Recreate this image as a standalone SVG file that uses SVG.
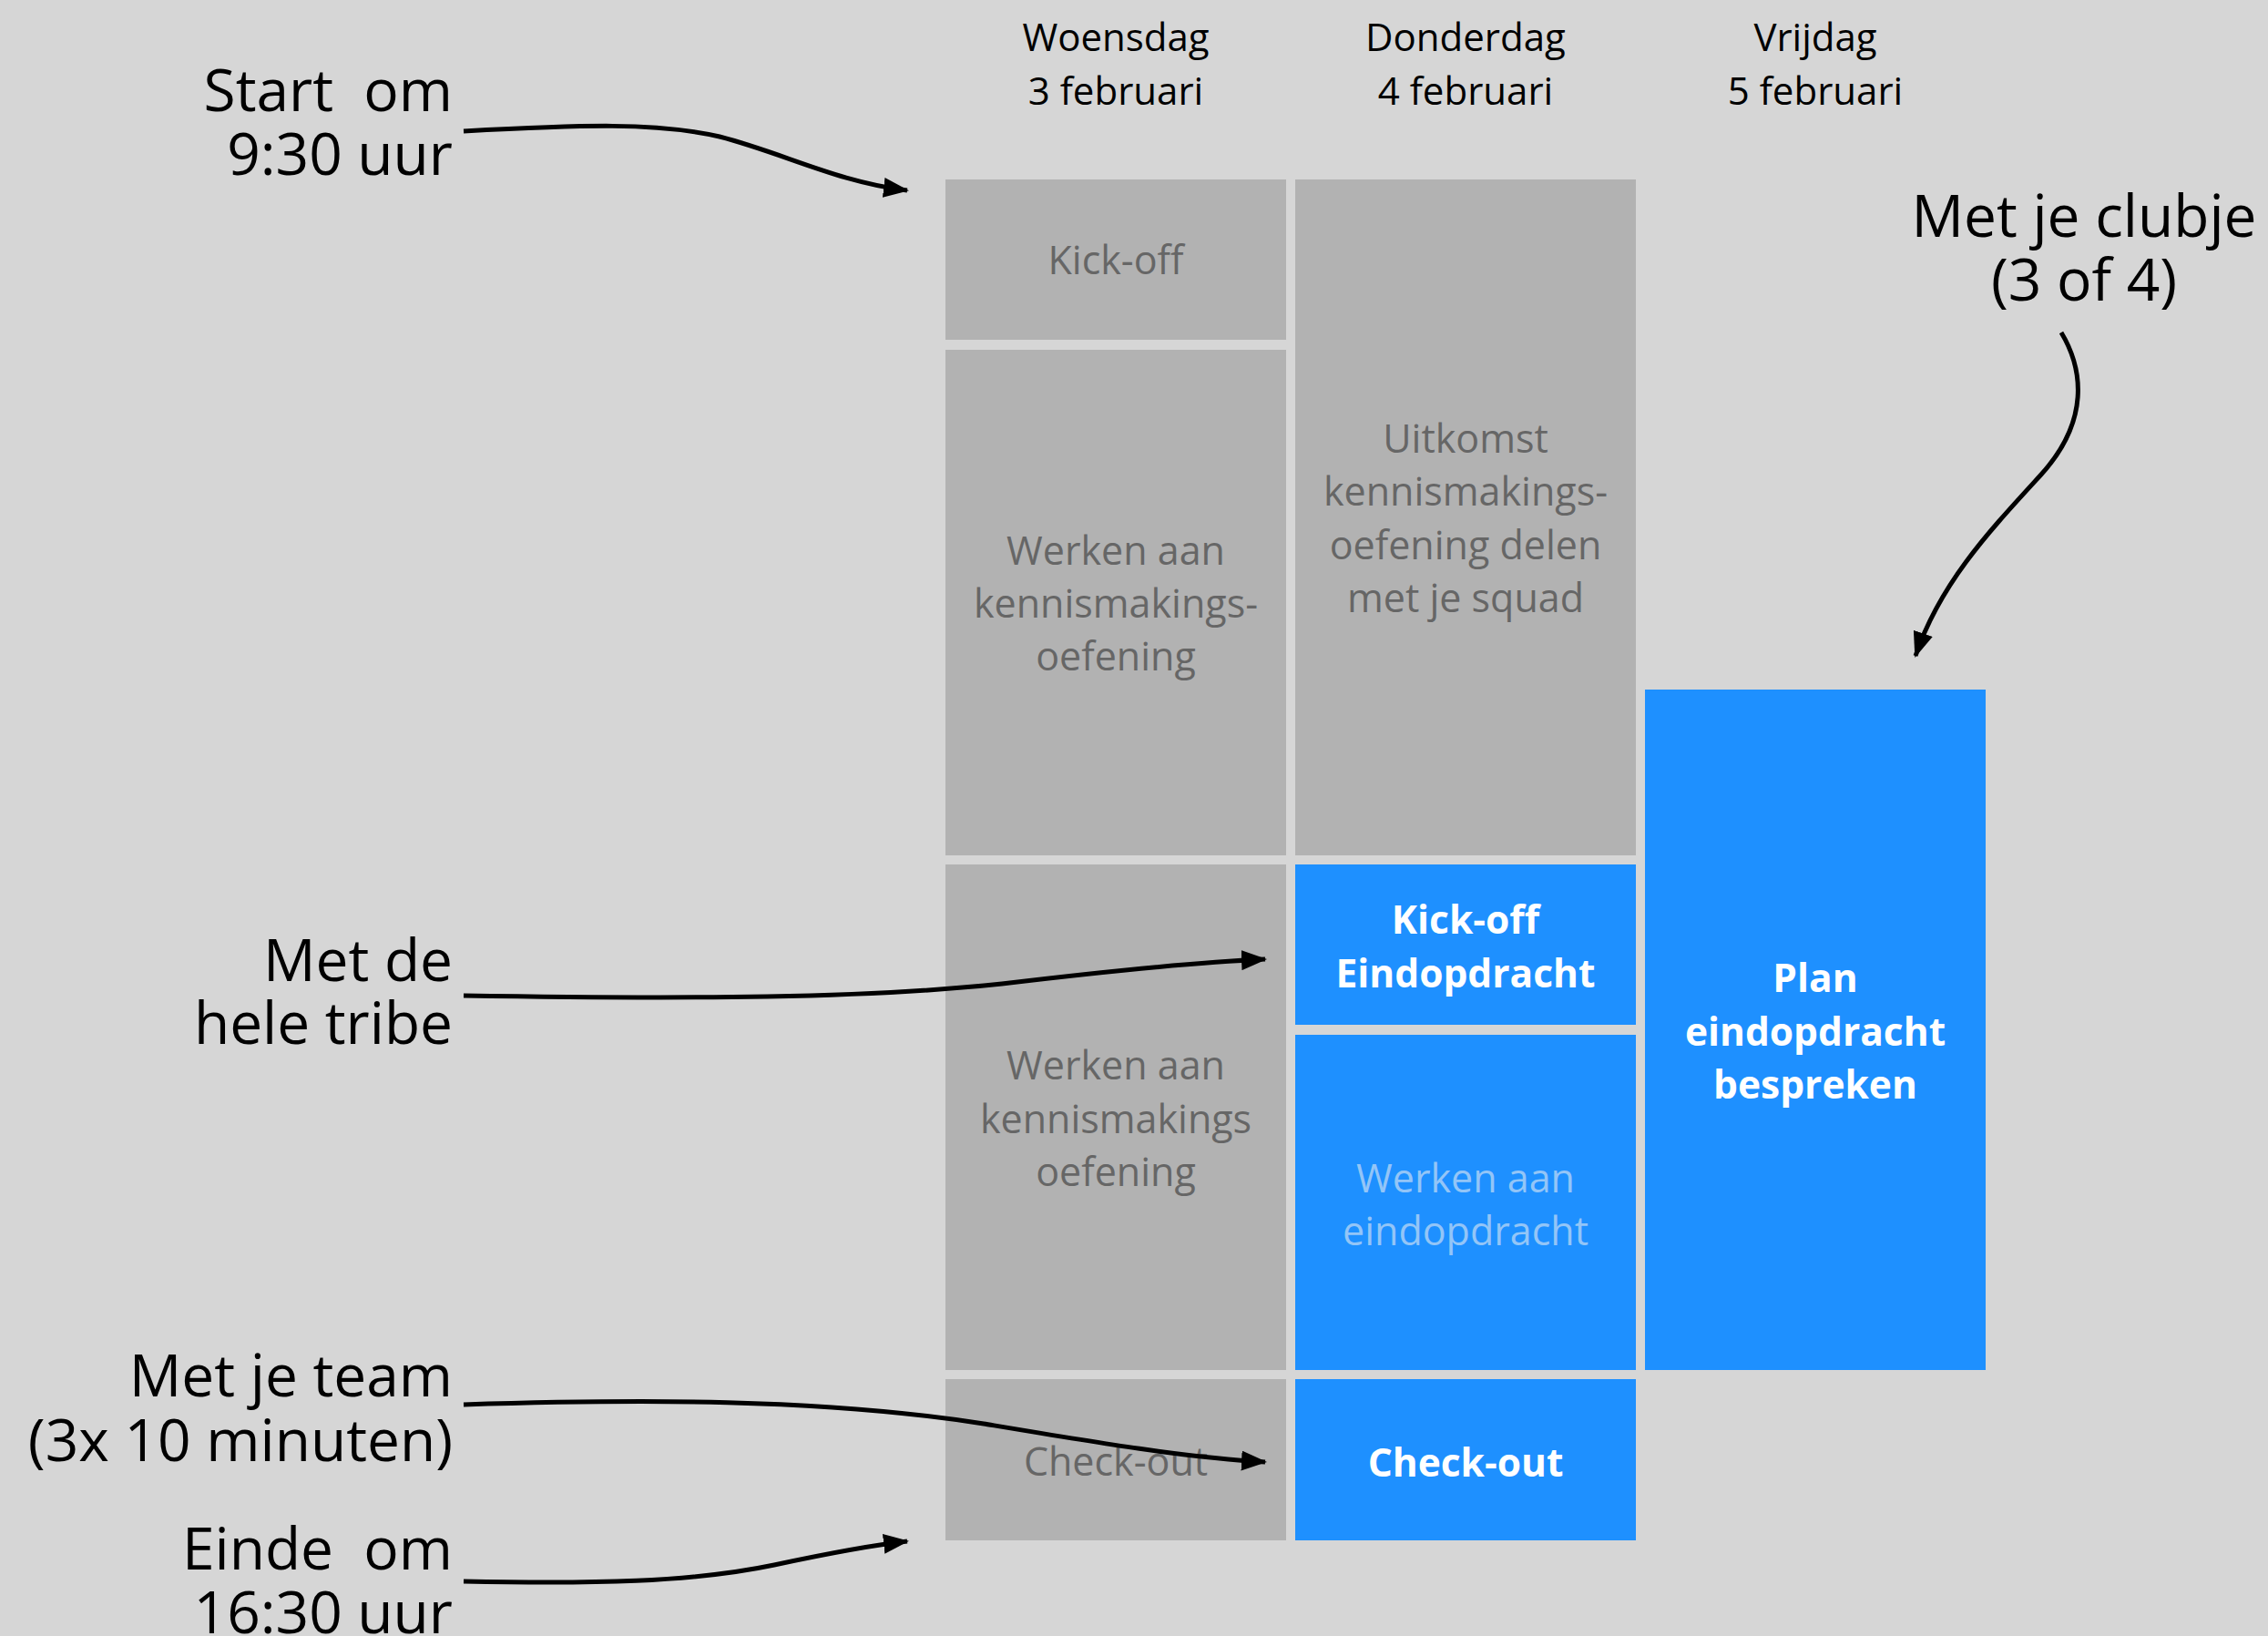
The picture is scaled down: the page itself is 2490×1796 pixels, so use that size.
<svg xmlns="http://www.w3.org/2000/svg" width="2490" height="1796" viewBox="0 0 2490 1796">
<defs>
<style>
.bg{fill:#d6d6d6}
.g{fill:#b2b2b2}
.b{fill:#1e90ff}
text{font-family:"Open Sans","Noto Sans","DejaVu Sans",sans-serif}
.hd{font-size:42px;fill:#000;text-anchor:middle}
.gt{font-size:43px;fill:#666666;text-anchor:middle}
.wt{font-size:42.5px;fill:#ffffff;font-weight:bold;text-anchor:middle}
.lt{font-size:43px;fill:#93c5f7;text-anchor:middle}
.lb{font-size:64px;fill:#000;text-anchor:end;white-space:pre}
.lc{font-size:64px;fill:#000;text-anchor:middle}
.c{fill:none;stroke:#000;stroke-width:5;marker-end:url(#ah)}
</style>
<marker id="ah" viewBox="0 0 28 22" refX="26" refY="11" markerWidth="28" markerHeight="22" markerUnits="userSpaceOnUse" orient="auto">
<path d="M0,0 L28,11 L0,22 z" fill="#000"/>
</marker>
</defs>
<rect class="bg" x="0" y="0" width="2490" height="1796"/>

<g id="headers">
<text class="hd" x="1225" y="56">Woensdag</text>
<text class="hd" x="1225" y="115">3 februari</text>
<text class="hd" x="1609" y="56">Donderdag</text>
<text class="hd" x="1609" y="115">4 februari</text>
<text class="hd" x="1993" y="56">Vrijdag</text>
<text class="hd" x="1993" y="115">5 februari</text>
</g>

<g id="w-kickoff">
<rect class="g" x="1038" y="197" width="374" height="176"/>
<text class="gt" x="1225" y="301">Kick-off</text>
</g>
<g id="w-werken1">
<rect class="g" x="1038" y="384" width="374" height="555"/>
<text class="gt" x="1225" y="620">Werken aan</text>
<text class="gt" x="1225" y="678">kennismakings-</text>
<text class="gt" x="1225" y="736">oefening</text>
</g>
<g id="w-werken2">
<rect class="g" x="1038" y="949" width="374" height="555"/>
<text class="gt" x="1225" y="1185">Werken aan</text>
<text class="gt" x="1225" y="1244">kennismakings</text>
<text class="gt" x="1225" y="1302">oefening</text>
</g>
<g id="w-checkout">
<rect class="g" x="1038" y="1514" width="374" height="177"/>
<text class="gt" x="1225" y="1620">Check-out</text>
</g>

<g id="d-uitkomst">
<rect class="g" x="1422" y="197" width="374" height="742"/>
<text class="gt" x="1609" y="497">Uitkomst</text>
<text class="gt" x="1609" y="555">kennismakings-</text>
<text class="gt" x="1609" y="614">oefening delen</text>
<text class="gt" x="1609" y="672">met je squad</text>
</g>
<g id="d-kickoff">
<rect class="b" x="1422" y="949" width="374" height="176"/>
<text class="wt" x="1609" y="1025">Kick-off</text>
<text class="wt" x="1609" y="1084">Eindopdracht</text>
</g>
<g id="d-werken">
<rect class="b" x="1422" y="1136" width="374" height="368"/>
<text class="lt" x="1609" y="1309">Werken aan</text>
<text class="lt" x="1609" y="1367">eindopdracht</text>
</g>
<g id="d-checkout">
<rect class="b" x="1422" y="1514" width="374" height="177"/>
<text class="wt" x="1609" y="1621">Check-out</text>
</g>

<g id="v-plan">
<rect class="b" x="1806" y="757" width="374" height="747"/>
<text class="wt" x="1993" y="1089">Plan</text>
<text class="wt" x="1993" y="1148">eindopdracht</text>
<text class="wt" x="1993" y="1206">bespreken</text>
</g>

<g id="labels">
<text class="lb" x="497" y="122">Start  om</text>
<text class="lb" x="497" y="192">9:30 uur</text>
<text class="lb" x="497" y="1077">Met de</text>
<text class="lb" x="497" y="1146">hele tribe</text>
<text class="lb" x="497" y="1533">Met je team</text>
<text class="lb" x="497" y="1604">(3x 10 minuten)</text>
<text class="lb" x="497" y="1723">Einde  om</text>
<text class="lb" x="497" y="1793">16:30 uur</text>
<text class="lc" x="2288" y="260">Met je clubje</text>
<text class="lc" x="2288" y="330">(3 of 4)</text>
</g>

<g id="connectors">
<path class="c" d="M509 144 C640 137 720 134 790 150 C860 168 920 200 996 209"/>
<path class="c" d="M509 1093 C760 1097 950 1096 1100 1080 C1200 1068 1300 1057 1389 1053"/>
<path class="c" d="M509 1542 C700 1536 900 1535 1080 1563 C1200 1583 1300 1600 1389 1605"/>
<path class="c" d="M509 1736 C650 1739 760 1737 850 1718 C920 1703 960 1696 996 1692"/>
<path class="c" d="M2263 365 C2287 405 2295 462 2240 522 C2185 582 2130 640 2103 720"/>
</g>
</svg>
